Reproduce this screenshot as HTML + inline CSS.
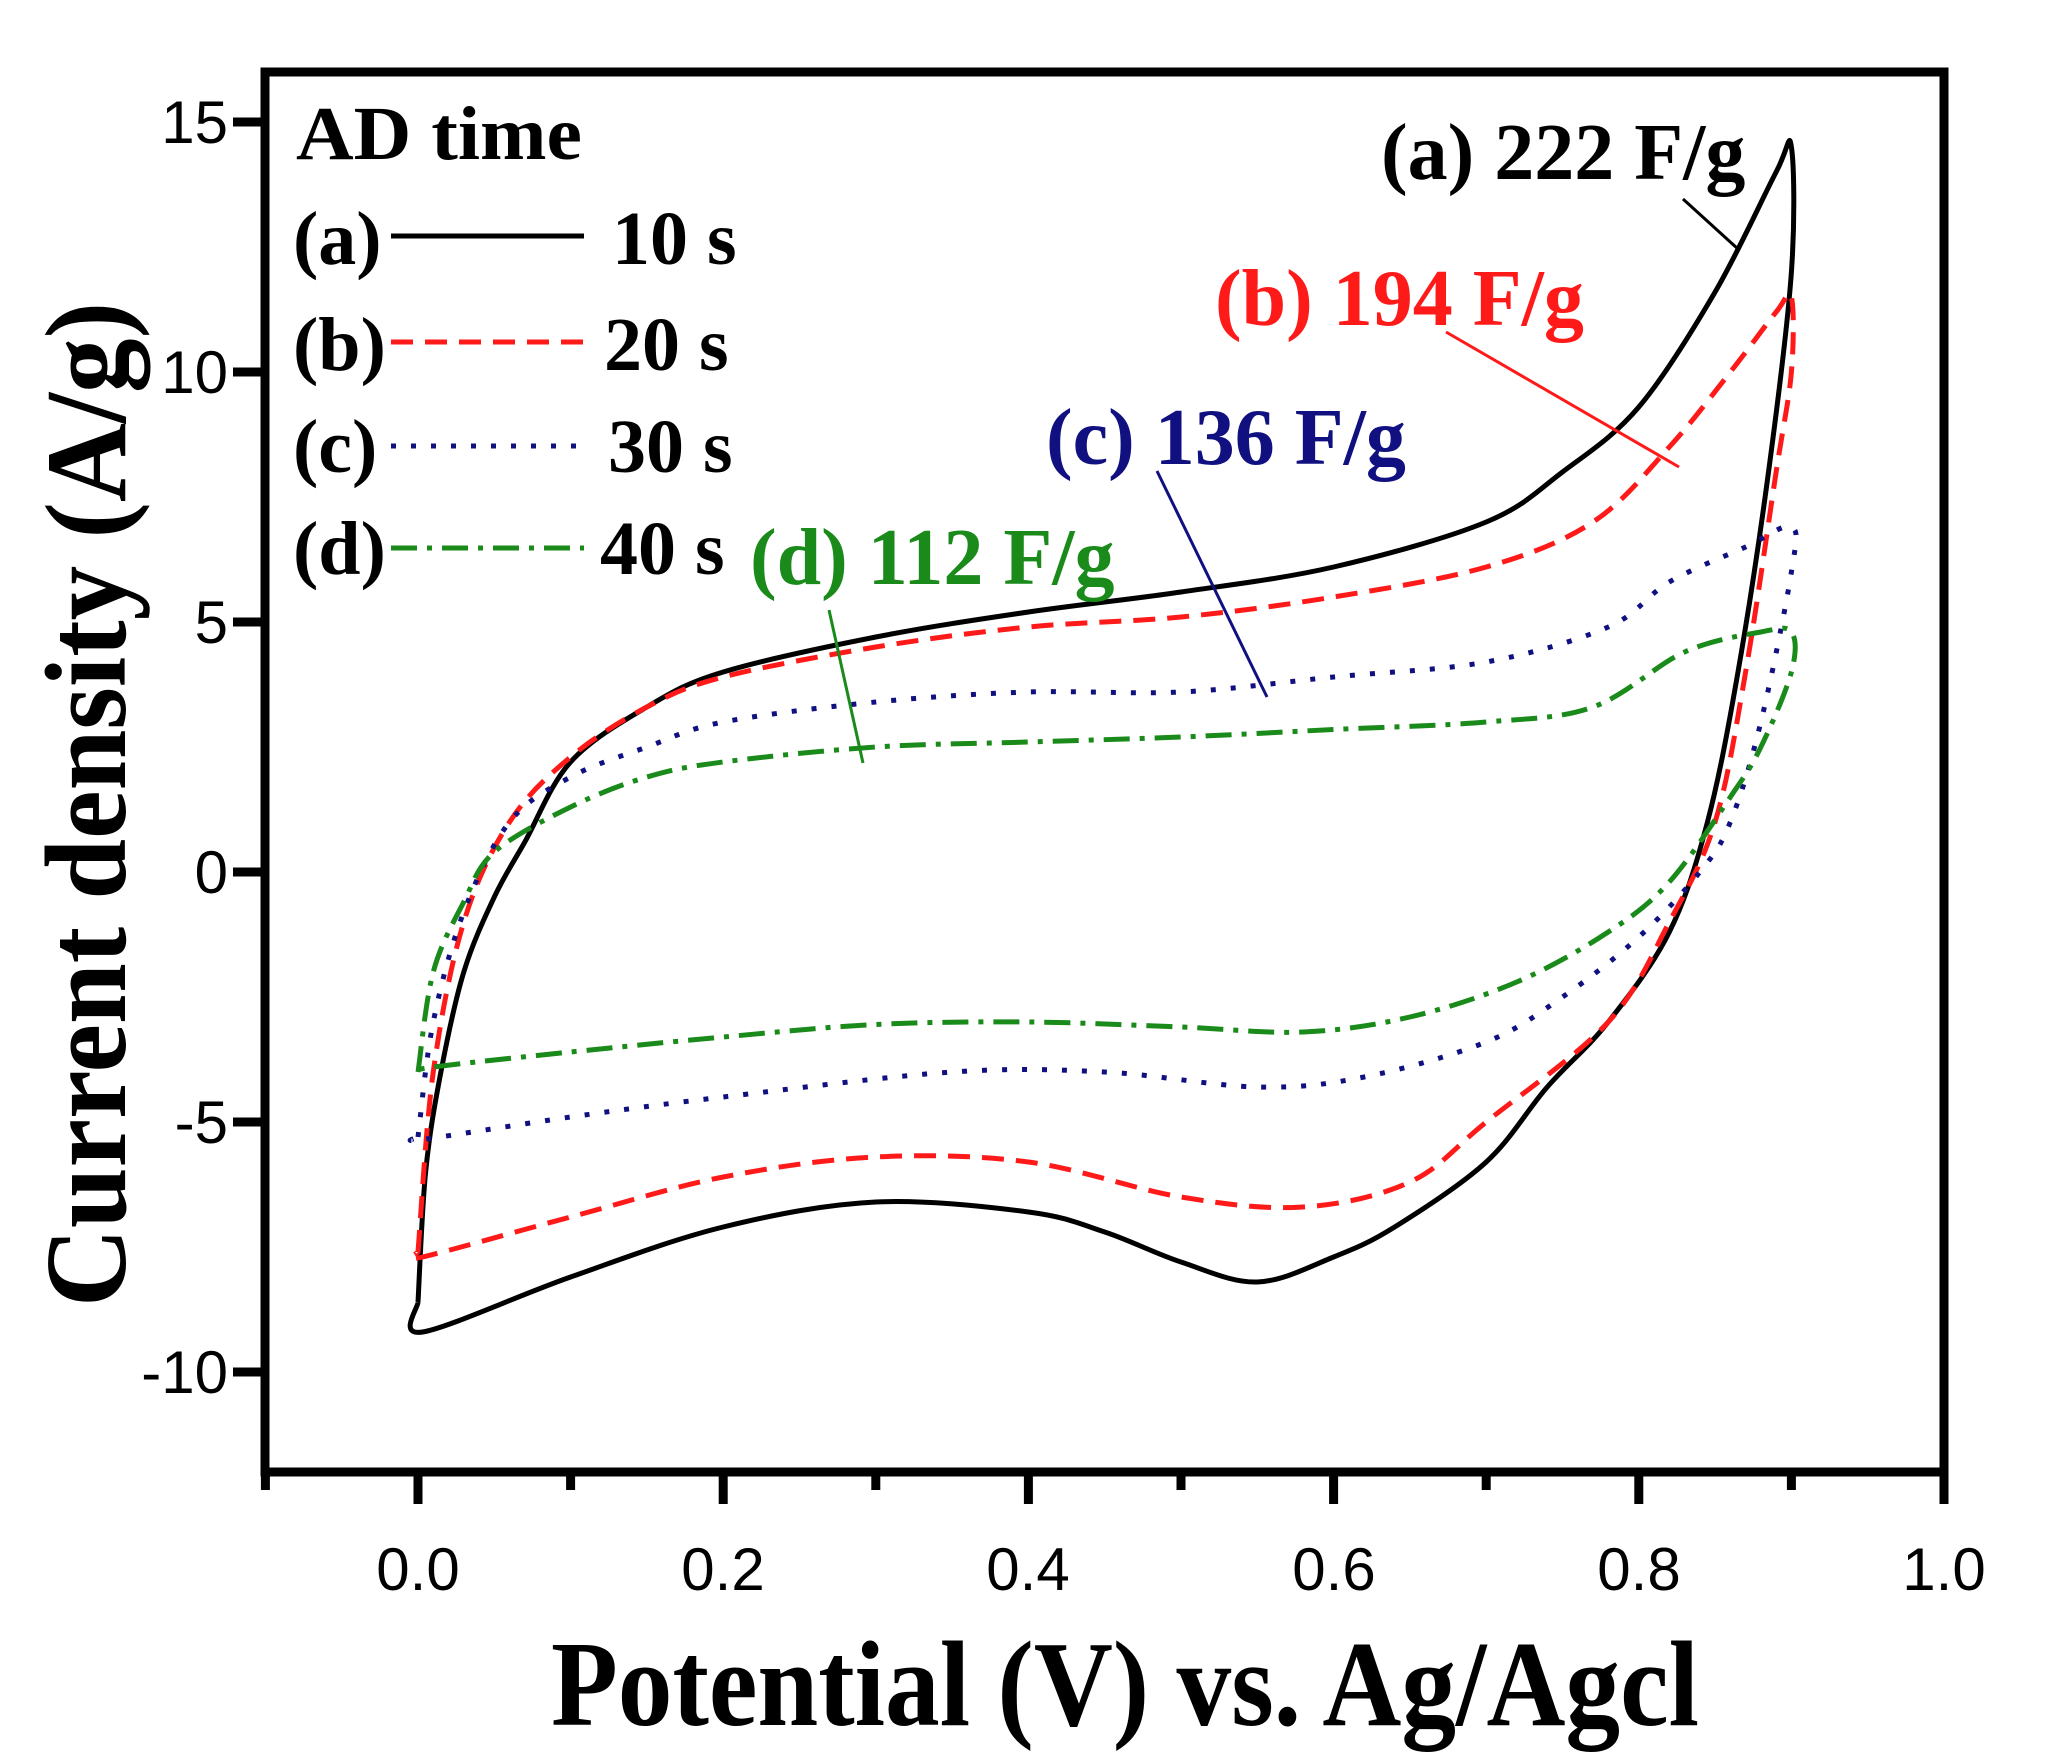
<!DOCTYPE html>
<html><head><meta charset="utf-8"><style>
html,body{margin:0;padding:0;background:#fff;}
svg{display:block;}
.t{font-family:"Liberation Sans",sans-serif;font-size:60px;}
.b{font-family:"Liberation Serif",serif;font-weight:bold;}
</style></head><body>
<svg id="s" width="2051" height="1760" viewBox="0 0 2051 1760" xmlns="http://www.w3.org/2000/svg">
<rect x="265" y="72" width="1679" height="1400" fill="none" stroke="#000" stroke-width="9"/>
<g id="ticks" stroke="#000" stroke-width="9"></g>
<g class="t" text-anchor="end">
<text x="228" y="143">15</text><text x="228" y="393">10</text><text x="228" y="643">5</text>
<text x="228" y="893">0</text><text x="228" y="1143">-5</text><text x="228" y="1393">-10</text>
</g>
<g class="t" text-anchor="middle">
<text x="418" y="1590">0.0</text><text x="723" y="1590">0.2</text><text x="1028" y="1590">0.4</text>
<text x="1334" y="1590">0.6</text><text x="1639" y="1590">0.8</text><text x="1944" y="1590">1.0</text>
</g>
<text class="b" x="551" y="1725" font-size="122" textLength="1148" lengthAdjust="spacingAndGlyphs">Potential (V) vs. Ag/Agcl</text>
<text class="b" transform="translate(125,1307) rotate(-90)" font-size="116" textLength="1005" lengthAdjust="spacingAndGlyphs">Current density  (A/g)</text>
<g id="curves" fill="none" stroke-width="5"></g>
<g class="b" font-size="76">
<text x="296" y="159" textLength="286" lengthAdjust="spacingAndGlyphs">AD time</text>
<text x="293" y="264">(a)</text><text x="612" y="264">10 s</text>
<text x="293" y="370">(b)</text><text x="604" y="370">20 s</text>
<text x="293" y="472">(c)</text><text x="608" y="472">30 s</text>
<text x="293" y="574">(d)</text><text x="600" y="574">40 s</text>
</g>
<line x1="391" y1="236" x2="584" y2="236" stroke="#000" stroke-width="5"/>
<line x1="391" y1="342" x2="584" y2="342" stroke="#ff1a1a" stroke-width="5" stroke-dasharray="22,12"/>
<line x1="391" y1="446" x2="584" y2="446" stroke="#101080" stroke-width="5" stroke-dasharray="5,15"/>
<line x1="391" y1="548" x2="584" y2="548" stroke="#1a8a1a" stroke-width="5" stroke-dasharray="26,10,5,10"/>
<g class="b" font-size="80">
<text x="1381" y="179" fill="#000">(a) 222 F/g</text>
<text x="1215" y="325" fill="#ff1a1a">(b) 194 F/g</text>
<text x="1046" y="464" fill="#101080">(c) 136 F/g</text>
<text x="750" y="584" fill="#1a8a1a">(d) 112 F/g</text>
</g>
<g stroke-width="3">
<line x1="1683" y1="199" x2="1738" y2="249" stroke="#000"/>
<line x1="1446" y1="332" x2="1679" y2="467" stroke="#ff1a1a"/>
<line x1="1157" y1="471" x2="1267" y2="697" stroke="#101080"/>
<line x1="829" y1="610" x2="863" y2="763" stroke="#1a8a1a"/>
</g>
</svg>
<script>
var NS="http://www.w3.org/2000/svg";
function X(v){return 418+v*1526;} function Y(j){return 122+(15-j)*50;}
var tk=document.getElementById("ticks");
function ln(x1,y1,x2,y2){var l=document.createElementNS(NS,"line");l.setAttribute("x1",x1);l.setAttribute("y1",y1);l.setAttribute("x2",x2);l.setAttribute("y2",y2);tk.appendChild(l);}
for(var i=-1;i<=10;i++){var x=X(i/10);ln(x,1472,x,(i%2==0)?1504:1490);}
for(var j=-10;j<=15;j+=5){ln(265,Y(j),233,Y(j));}
var D={
a:[[0,-8.6],[0.005,-6],[0.015,-4],[0.03,-2],[0.05,-0.5],[0.07,0.6],[0.1,2.2],[0.15,3.3],[0.2,4],[0.3,4.7],[0.4,5.2],[0.5,5.6],[0.6,6.1],[0.7,7],[0.75,8],[0.8,9.3],[0.85,11.6],[0.89,14],[0.9,14.5],[0.9,12],[0.885,8],[0.865,4],[0.845,1],[0.82,-1.2],[0.78,-3],[0.74,-4.3],[0.7,-5.8],[0.64,-7.1],[0.6,-7.7],[0.55,-8.2],[0.5,-7.8],[0.45,-7.2],[0.4,-6.8],[0.3,-6.6],[0.2,-7.1],[0.1,-8.1],[0.003,-9.2],[0,-8.6]],
b:[[0,-7.6],[0.01,-4],[0.03,-1],[0.06,1],[0.1,2.3],[0.15,3.3],[0.2,3.9],[0.3,4.5],[0.4,4.9],[0.5,5.1],[0.6,5.5],[0.7,6.1],[0.77,7],[0.82,8.5],[0.86,10],[0.89,11.2],[0.9,11.5],[0.9,10],[0.89,8],[0.87,4],[0.85,1],[0.82,-1],[0.78,-3],[0.7,-5],[0.65,-6.2],[0.58,-6.7],[0.5,-6.5],[0.4,-5.8],[0.3,-5.7],[0.2,-6.1],[0.1,-6.9],[0.003,-7.7],[0,-7.6]],
c:[[0,-5.3],[0.01,-3],[0.03,-0.8],[0.06,1],[0.1,1.9],[0.15,2.5],[0.2,3],[0.3,3.4],[0.4,3.6],[0.5,3.6],[0.6,3.9],[0.7,4.2],[0.78,4.9],[0.82,5.8],[0.87,6.5],[0.9,6.9],[0.9,6],[0.88,3],[0.86,1],[0.84,0],[0.8,-1.3],[0.75,-2.5],[0.7,-3.4],[0.62,-4.1],[0.55,-4.3],[0.45,-4],[0.35,-4],[0.2,-4.5],[0.1,-4.9],[0.003,-5.35],[0,-5.3]],
d:[[0,-4],[0.01,-2],[0.03,-0.6],[0.05,0.4],[0.1,1.3],[0.15,1.9],[0.2,2.2],[0.3,2.5],[0.4,2.6],[0.5,2.7],[0.6,2.85],[0.7,3],[0.77,3.3],[0.83,4.4],[0.88,4.8],[0.9,4.8],[0.9,4],[0.88,2.5],[0.86,1.5],[0.82,-0.2],[0.78,-1.2],[0.72,-2.2],[0.65,-2.9],[0.58,-3.2],[0.5,-3.1],[0.4,-3],[0.3,-3.05],[0.2,-3.3],[0.1,-3.6],[0.01,-3.9],[0,-4]]};
var S={a:["#000",""],b:["#ff1a1a","22,12"],c:["#101080","5,15"],d:["#1a8a1a","26,10,5,10"]};
var g=document.getElementById("curves");
for(var k in D){var p=D[k].map(function(q){return [X(q[0]),Y(q[1])];});
var d="M"+p[0][0]+","+p[0][1];
for(var i=0;i<p.length-1;i++){var p0=p[Math.max(0,i-1)],p1=p[i],p2=p[i+1],p3=p[Math.min(p.length-1,i+2)];
d+=" C"+(p1[0]+(p2[0]-p0[0])/6)+","+(p1[1]+(p2[1]-p0[1])/6)+" "+(p2[0]-(p3[0]-p1[0])/6)+","+(p2[1]-(p3[1]-p1[1])/6)+" "+p2[0]+","+p2[1];}
var e=document.createElementNS(NS,"path");e.setAttribute("d",d);e.setAttribute("stroke",S[k][0]);if(S[k][1])e.setAttribute("stroke-dasharray",S[k][1]);g.appendChild(e);}
</script>
</body></html>
